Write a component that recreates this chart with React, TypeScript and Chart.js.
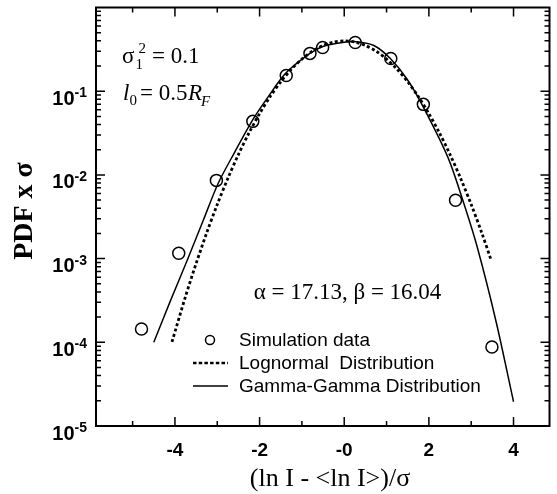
import React, { useEffect, useRef } from "react";
import { Chart, registerables } from "chart.js";
Chart.register(...registerables);

// Simulation data (circles)
const simX = [-4.79, -3.91, -3.02, -2.16, -1.37, -0.81, -0.51, 0.26, 1.1, 1.87, 2.63, 3.49];
const simY = [1.44e-4, 1.16e-3, 8.6e-3, 0.0436, 0.154, 0.283, 0.333, 0.382, 0.246, 0.0696, 0.00498, 8.8e-5];

// Lognormal distribution (dotted)
const lognormalX = [-4.07, -3.75, -3.5, -3.25, -3.0, -2.75, -2.5, -2.25, -2.0, -1.75, -1.5, -1.25, -1.0, -0.75, -0.5, -0.25, 0, 0.25, 0.5, 0.75, 1.0, 1.25, 1.5, 1.75, 2.0, 2.25, 2.5, 2.75, 3.0, 3.25, 3.47];
const lognormalY = [1.01e-4, 3.53e-4, 8.73e-4, 2.03e-3, 4.43e-3, 9.09e-3, 0.0175, 0.0317, 0.054, 0.0863, 0.1295, 0.1826, 0.242, 0.3011, 0.3521, 0.3867, 0.3989, 0.3867, 0.3521, 0.3011, 0.242, 0.1826, 0.1295, 0.0863, 0.054, 0.0317, 0.0175, 9.09e-3, 4.43e-3, 2.03e-3, 9.63e-4];

// Gamma-Gamma distribution (solid)
const gammaX = [-4.5, -4.1, -3.7, -3.33, -2.98, -2.59, -2.17, -1.79, -1.39, -0.81, -0.49, 0.0, 0.28, 0.7, 1.09, 1.49, 1.86, 2.45, 2.8, 3.15, 3.59, 4.0];
const gammaY = [1.0e-4, 3.19e-4, 9.8e-4, 2.87e-3, 7.9e-3, 0.0186, 0.0449, 0.0867, 0.163, 0.283, 0.345, 0.385, 0.39, 0.352, 0.246, 0.138, 0.0659, 0.0162, 0.005, 1.33e-3, 1.75e-4, 1.95e-5];

const xTicks = [-4, -2, 0, 2, 4];
const xTickLabels = ["-4", "-2", "-0", "2", "4"];
const xMinorTicks = [-5, -3, -1, 1, 3];
const yTicks = [1e-5, 1e-4, 1e-3, 1e-2, 1e-1];
const yTickExponents = ["-5", "-4", "-3", "-2", "-1"];
const yMinorMultipliers = [2, 3, 4, 5, 6, 7, 8, 9];

const SERIF = '"Liberation Serif", "Times New Roman", serif';
const SANS = '"Liberation Sans", Arial, sans-serif';

const decor = {
  id: "decor",
  afterDatasetsDraw(chart: any) {
    const ctx = chart.ctx as CanvasRenderingContext2D;
    const ca = chart.chartArea;
    const xs = chart.scales.x;
    const ys = chart.scales.y;
    ctx.save();
    ctx.fillStyle = "#000";
    ctx.strokeStyle = "#000";

    // frame
    ctx.lineWidth = 2;
    ctx.strokeRect(ca.left, ca.top, ca.right - ca.left, ca.bottom - ca.top);

    // ticks
    ctx.lineWidth = 1.5;
    const majorLen = 9;
    const minorLen = 5;
    ctx.beginPath();
    xTicks.forEach((v) => {
      const px = xs.getPixelForValue(v);
      ctx.moveTo(px, ca.bottom); ctx.lineTo(px, ca.bottom - majorLen);
      ctx.moveTo(px, ca.top); ctx.lineTo(px, ca.top + majorLen);
    });
    xMinorTicks.forEach((v) => {
      const px = xs.getPixelForValue(v);
      ctx.moveTo(px, ca.bottom); ctx.lineTo(px, ca.bottom - minorLen);
      ctx.moveTo(px, ca.top); ctx.lineTo(px, ca.top + minorLen);
    });
    yTicks.forEach((v) => {
      const py = ys.getPixelForValue(v);
      ctx.moveTo(ca.left, py); ctx.lineTo(ca.left + majorLen, py);
      ctx.moveTo(ca.right, py); ctx.lineTo(ca.right - majorLen, py);
      yMinorMultipliers.forEach((m) => {
        const pm = ys.getPixelForValue(v * m);
        ctx.moveTo(ca.left, pm); ctx.lineTo(ca.left + minorLen, pm);
        ctx.moveTo(ca.right, pm); ctx.lineTo(ca.right - minorLen, pm);
      });
    });
    ctx.stroke();

    // x tick labels
    ctx.font = `bold 19px ${SANS}`;
    ctx.textAlign = "center";
    ctx.textBaseline = "alphabetic";
    xTicks.forEach((v, i) => {
      ctx.fillText(xTickLabels[i], xs.getPixelForValue(v), 456);
    });

    // y tick labels 10^n
    yTicks.forEach((v, i) => {
      const py = ys.getPixelForValue(v);
      ctx.font = `bold 14px ${SANS}`;
      const ew = ctx.measureText(yTickExponents[i]).width;
      ctx.font = `bold 20px ${SANS}`;
      const bw = ctx.measureText("10").width;
      const right = 87;
      ctx.textAlign = "left";
      ctx.fillText("10", right - ew - bw, py + 13.5);
      ctx.font = `bold 14px ${SANS}`;
      ctx.fillText(yTickExponents[i], right - ew, py + 6);
    });

    // y title
    ctx.save();
    ctx.translate(25, 211);
    ctx.rotate(-Math.PI / 2);
    ctx.font = `bold 28px ${SERIF}`;
    ctx.textAlign = "center";
    ctx.textBaseline = "middle";
    ctx.fillText("PDF x σ", 0, 0);
    ctx.restore();

    // x title
    ctx.font = `26px ${SERIF}`;
    ctx.textAlign = "center";
    ctx.textBaseline = "alphabetic";
    ctx.fillText("(ln I - <ln I>)/σ", 330, 486);

    // annotation: sigma_1^2 = 0.1
    ctx.textAlign = "left";
    ctx.font = `23px ${SERIF}`;
    ctx.fillText("σ", 122, 63);
    const sw = ctx.measureText("σ").width;
    ctx.font = `15px ${SERIF}`;
    ctx.fillText("1", 122 + sw + 1, 69);
    ctx.fillText("2", 122 + sw + 4, 53);
    ctx.font = `23px ${SERIF}`;
    ctx.fillText("= 0.1", 152, 63);

    // annotation: l_0 = 0.5 R_F
    ctx.font = `italic 23px ${SERIF}`;
    ctx.fillText("l", 123, 100);
    const lw = ctx.measureText("l").width;
    ctx.font = `15px ${SERIF}`;
    ctx.fillText("0", 123 + lw, 105);
    ctx.font = `23px ${SERIF}`;
    ctx.fillText("= 0.5", 140, 100);
    ctx.font = `italic 23px ${SERIF}`;
    ctx.fillText("R", 188, 100);
    const rw = ctx.measureText("R").width;
    ctx.font = `italic 15px ${SERIF}`;
    ctx.fillText("F", 188 + rw - 1, 106);

    // alpha beta annotation
    ctx.font = `23px ${SERIF}`;
    ctx.textAlign = "center";
    ctx.fillText("α = 17.13, β = 16.04", 347.5, 299);

    // legend
    const ds = chart.data.datasets;
    ctx.textAlign = "left";
    ctx.textBaseline = "middle";
    ctx.font = `19px ${SANS}`;
    // simulation
    ctx.lineWidth = 1.5;
    ctx.setLineDash([]);
    ctx.beginPath();
    ctx.arc(210, 340, 4.5, 0, Math.PI * 2);
    ctx.stroke();
    ctx.fillText(ds[2].label, 239, 341);
    // lognormal
    ctx.lineWidth = 2.5;
    ctx.setLineDash([3.5, 2.2]);
    ctx.beginPath();
    ctx.moveTo(193, 363); ctx.lineTo(228, 363);
    ctx.stroke();
    ctx.setLineDash([]);
    ctx.fillText(ds[1].label, 239, 364);
    // gamma
    ctx.lineWidth = 1.5;
    ctx.beginPath();
    ctx.moveTo(193, 386); ctx.lineTo(228, 386);
    ctx.stroke();
    ctx.fillText(ds[0].label, 239, 387);

    ctx.restore();
  },
};

export default function App() {
  const ref = useRef<HTMLCanvasElement | null>(null);
  useEffect(() => {
    document.body.style.margin = "0";
    const canvas = ref.current!;
    const chart = new Chart(canvas, {
      type: "scatter",
      data: {
        datasets: [
          {
            label: "Gamma-Gamma Distribution",
            data: gammaX.map((x, i) => ({ x, y: gammaY[i] })),
            showLine: true,
            borderColor: "#000",
            borderWidth: 1.5,
            pointRadius: 0,
            tension: 0.3,
            fill: false,
          },
          {
            label: "Lognormal  Distribution",
            data: lognormalX.map((x, i) => ({ x, y: lognormalY[i] })),
            showLine: true,
            borderColor: "#000",
            borderWidth: 2.8,
            borderDash: [3, 2.5],
            pointRadius: 0,
            tension: 0.3,
            fill: false,
          },
          {
            label: "Simulation data",
            data: simX.map((x, i) => ({ x, y: simY[i] })),
            showLine: false,
            pointRadius: 6,
            pointBorderWidth: 1.5,
            pointBorderColor: "#000",
            pointBackgroundColor: "rgba(0,0,0,0)",
          },
        ],
      },
      options: {
        responsive: false,
        animation: false,
        devicePixelRatio: 1,
        events: [],
        layout: { padding: { left: 96, right: 1, top: 7, bottom: 68 } },
        scales: {
          x: { type: "linear", min: -5.865, max: 4.85, display: false },
          y: { type: "logarithmic", min: 1e-5, max: 1, display: false },
        },
        plugins: { legend: { display: false }, tooltip: { enabled: false } },
      },
      plugins: [decor],
    } as any);
    return () => chart.destroy();
  }, []);
  return (
    <div style={{ width: 557, height: 494, background: "#fff" }}>
      <canvas ref={ref} width={557} height={494} style={{ display: "block", width: 557, height: 494 }} />
    </div>
  );
}
